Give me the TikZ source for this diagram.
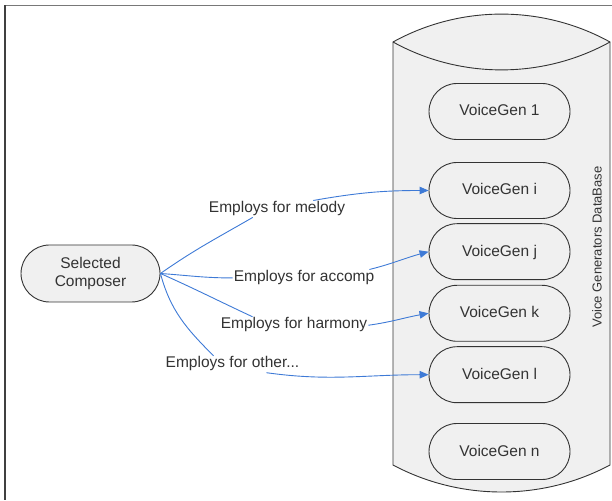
\documentclass[tikz,border=0pt]{standalone}
\usepackage{fontspec}
\setmainfont{Liberation Sans}
\usetikzlibrary{shapes.misc,arrows.meta}
\definecolor{edgeblue}{RGB}{62,122,214}
\definecolor{boxfill}{RGB}{240,240,240}
\definecolor{inkgray}{RGB}{51,51,51}
\definecolor{framegray}{RGB}{120,120,120}
\definecolor{framedark}{RGB}{64,64,64}
\begin{document}
\begin{tikzpicture}[x=1pt,y=1pt,
  txt/.style={font=\fontsize{15.5}{18}\selectfont, text=inkgray},
  pill/.style={txt, rounded rectangle, draw=inkgray, line width=0.9pt, fill=boxfill,
    minimum width=141pt, minimum height=56pt, inner sep=0pt},
  genbox/.style={pill, text height=11pt, text depth=2pt},
  elabel/.style={txt, fill=white, inner sep=1pt, anchor=base, text height=11pt, text depth=3.5pt},
  link/.style={draw=edgeblue, line width=0.9pt},
  linkarrow/.style={link, -{Triangle[length=9pt,width=7.5pt]}}]
\useasboundingbox (0,0) rectangle (612,500);

% frame lines along the top and left edges
\draw[framegray, line width=1.6pt] (5,494.5) -- (612,494.5);
\draw[framedark, line width=1.6pt] (5,494.5) -- (5,0);

% database cylinder (circular-looking arcs meeting the sides in sharp corners)
\draw[draw=inkgray, line width=0.9pt, fill=boxfill]
  (393,458) .. controls (460.4,495.2) and (542.6,495.2) .. (610,458) -- (610,35)
  .. controls (542.6,-1) and (460.4,-1) .. (393,35) -- cycle;
\draw[draw=inkgray, line width=0.9pt]
  (393,458) .. controls (460.4,420.8) and (542.6,420.8) .. (610,458);
\node[rotate=90, font=\fontsize{13}{15}\selectfont, text=inkgray] (dbname) at (597,253)
  {Voice Generators DataBase};

% voice generators
\node[genbox] (vg1) at (499.5,388.5) {VoiceGen 1};
\node[genbox] (vgi) at (499.5,309.5) {VoiceGen i};
\node[genbox] (vgj) at (499.5,248.3) {VoiceGen j};
\node[genbox] (vgk) at (499.5,186.7) {VoiceGen k};
\node[genbox] (vgl) at (499.5,125.3) {VoiceGen l};
\node[genbox] (vgn) at (499.5,48.5) {VoiceGen n};

% composer
\node[pill, minimum width=139pt, minimum height=57pt, align=center] (sc) at (90.5,226.5)
  {Selected\\Composer};

% edge labels
\node[elabel] (l1) at (277,287.3) {Employs for melody};
\node[elabel] (l2) at (304,218.3) {Employs for accomp};
\node[elabel] (l3) at (294,171) {Employs for harmony};
\node[elabel] (l4) at (232.5,132) {Employs for other...};

% connectors
\draw[link] (sc.east) to[out=35,in=210] ([xshift=45pt]l1.south west);
\draw[linkarrow] ([xshift=-33pt]l1.north east) to[out=10,in=180] (vgi.west);

\draw[link] (sc.east) to[out=-4,in=180] (l2.west);
\draw[linkarrow] ([xshift=-6pt]l2.north east) to[out=14,in=195] (vgj.west);

\draw[link] (sc.east) to[out=-24,in=155] ([xshift=33pt]l3.north west);
\draw[linkarrow] (l3.east) to[out=8,in=190] (vgk.west);

\draw[link] (sc.east) to[out=-75,in=135] ([xshift=49pt]l4.north west);
\draw[linkarrow] ([xshift=-34pt]l4.south east) to[out=-8,in=180] (vgl.west);
\end{tikzpicture}
\end{document}
